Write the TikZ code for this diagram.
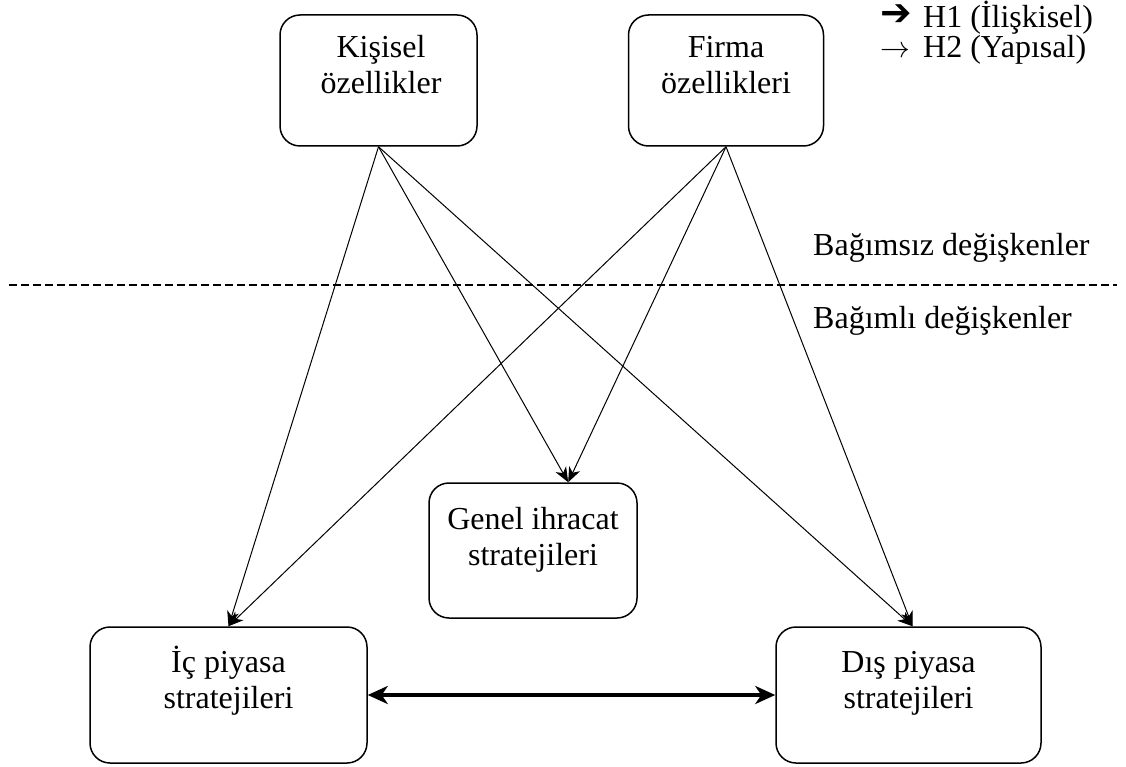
\documentclass[tikz,border=0pt]{standalone}
\usepackage{fontspec}
\setmainfont{Liberation Serif}
\newfontfamily\symfnt{DejaVu Sans}
\usetikzlibrary{arrows.meta,calc}
\begin{document}
\begin{tikzpicture}[x=1pt,y=-1pt,
  box/.style={draw,line width=1.5pt,rounded corners=20pt,inner sep=0pt},
  txt/.style={font=\fontsize{32}{36}\selectfont,align=center,inner sep=0pt,anchor=base},
  lbl/.style={font=\fontsize{32}{36}\selectfont,inner sep=0pt,anchor=base west},
  sym/.style={inner sep=0pt,anchor=base west},
  rel/.style={line width=1pt,-{Stealth[length=15pt,width=12pt,inset=4.5pt]}},
  both/.style={line width=4pt,{Stealth[length=20pt,width=18pt,inset=6pt]}-{Stealth[length=20pt,width=18pt,inset=6pt]}}
]
\useasboundingbox (0,0) rectangle (1126,767);
% boxes
\node[box,minimum width=197pt,minimum height=131pt] (k) at (378.5,80.5) {};
\node[box,minimum width=195pt,minimum height=131pt] (f) at (726,80.5) {};
\node[box,minimum width=208pt,minimum height=135pt] (g) at (533,550.5) {};
\node[box,minimum width=277pt,minimum height=136pt] (i) at (228.5,695) {};
\node[box,minimum width=265pt,minimum height=136pt] (d) at (908.5,695) {};
% texts (base = baseline of last line)
\node[txt] (kt) at (381,94) {Kişisel\\özellikler};
\node[txt] (ft) at (726,94) {Firma\\özellikleri};
\node[txt] (gt) at (533,565) {Genel ihracat\\stratejileri};
\node[txt] (it) at (228.5,708) {İç piyasa\\stratejileri};
\node[txt] (dt) at (908.5,708) {Dış piyasa\\stratejileri};
% separator
\coordinate (dl) at (9,285);
\coordinate (dr) at (1117,285);
\draw[line width=1.3pt,dash pattern=on 7.5pt off 4.5pt] (dl) -- (dr);
\node[lbl] (bz) at (813,255) {Bağımsız değişkenler};
\node[lbl] (bl) at (813,328) {Bağımlı değişkenler};
% legend
\node[sym,font=\fontsize{26}{30}\symfnt] (la1) at (880,26) {\smash{\scalebox{1.45}{➔}}};
\node[lbl] (l1) at (923,28) {H1 (İlişkisel)};
\node[sym,font=\fontsize{24}{28}\selectfont] (la2) at (880,58) {\scalebox{1.2}{$\rightarrow$}};
\node[lbl] (l2) at (923,58) {H2 (Yapısal)};
% connectors
\coordinate (gin) at ($(g.north west)!0.668!(g.north east)$);
\coordinate (din) at ($(d.north)+(4,0)$);
\draw[rel] (k.south) -- (i.north);
\draw[rel] (k.south) -- (gin);
\draw[rel] (k.south) -- (din);
\draw[rel] (f.south) -- (i.north);
\draw[rel] (f.south) -- (gin);
\draw[rel] (f.south) -- (din);
\draw[both] (i.east) -- (d.west);
\end{tikzpicture}
\end{document}
